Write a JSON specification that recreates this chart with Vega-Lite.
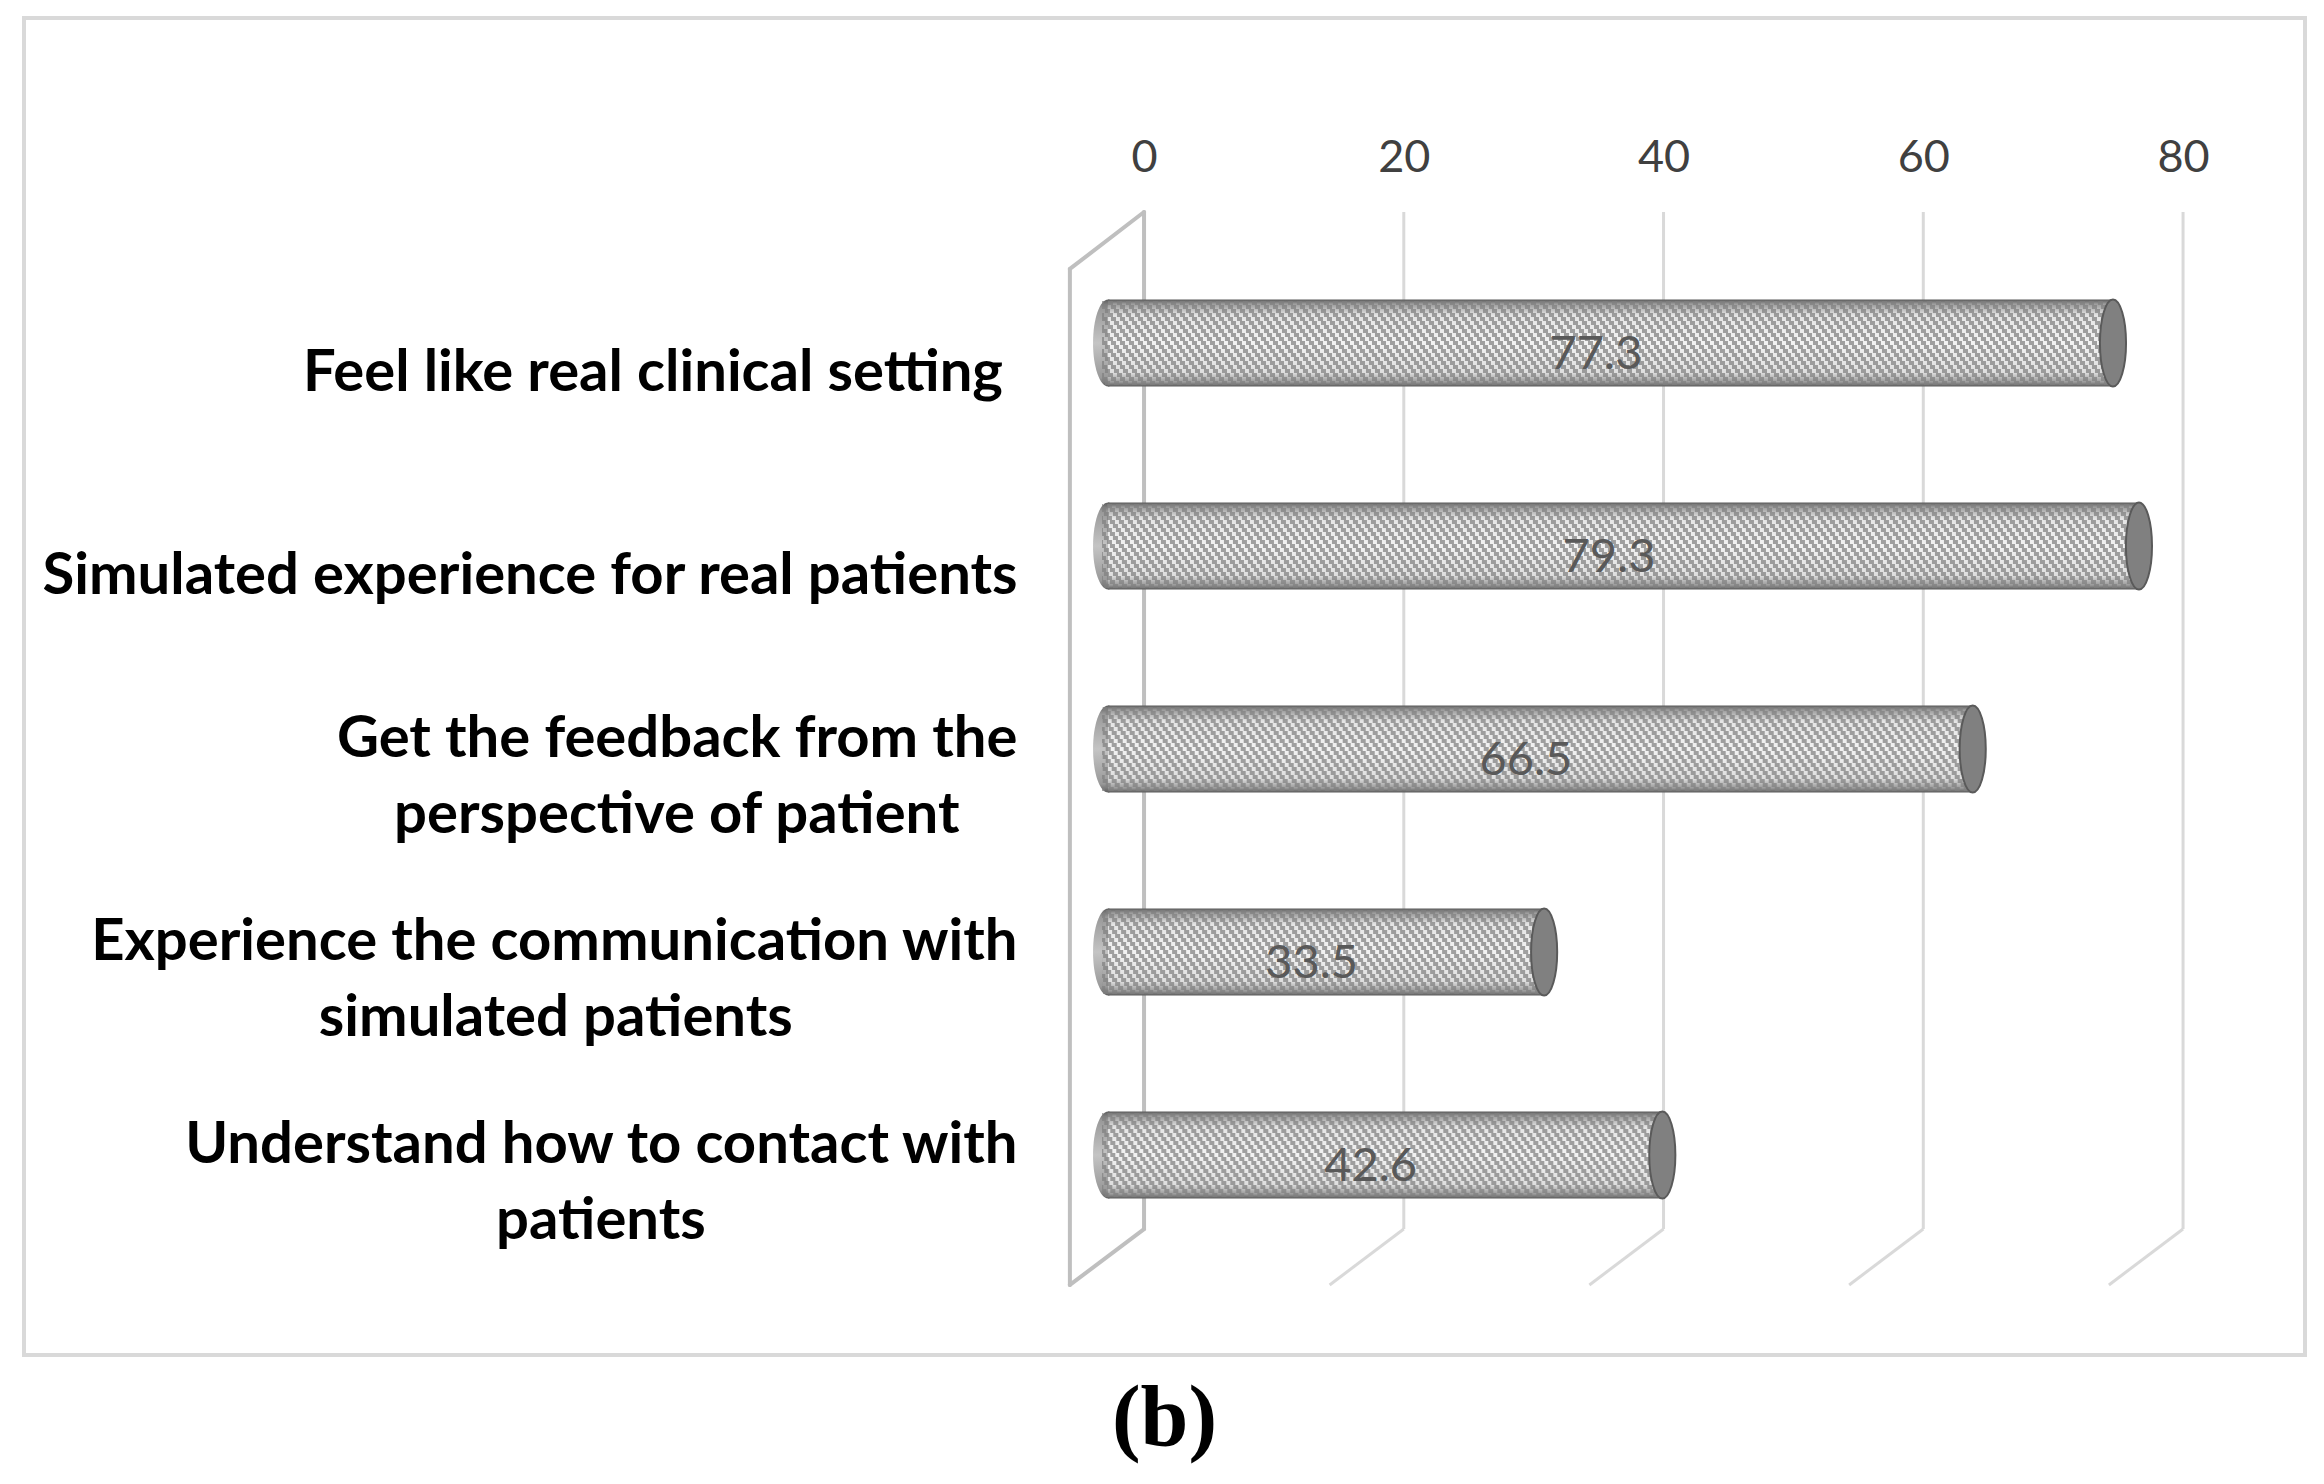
{"$schema":"https://vega.github.io/schema/vega-lite/v6.json","width":2281,"height":1337,"autosize":"none","padding":{"left":24,"top":18,"right":19,"bottom":129},"background":"white","config":{"view":{"stroke":"#d9d9d9","strokeWidth":4},"font":"Lato"},"title":{"text":"(b)","orient":"bottom","anchor":"middle","font":"Liberation Serif","fontWeight":"bold","fontSize":86,"color":"black","offset":22},"data":{"values":[{"label":"Feel like real clinical setting\u2009\u2009\u2060","value":77.3},{"label":"Simulated experience for real patients","value":79.3},{"label":"Get the feedback from the|perspective of patient\u2003\u2009\u2009\u2060","value":66.5},{"label":"Experience the communication with|simulated patients\u2003\u2003\u2003\u2003\u2003\u2009\u2060","value":33.5},{"label":"Understand how to contact with|patients\u2003\u2003\u2003\u2003\u2003\u2003\u2003\u2009\u2060","value":42.6}]},"resolve":{"scale":{"y":"independent"},"axis":{"x":"independent"}},"layer":[{"resolve":{"axis":{"x":"independent"}},"layer":[{"data":{"values":[{"v":20},{"v":40},{"v":60},{"v":80},{"v":0}]},"mark":{"type":"rule","stroke":"#d9d9d9","strokeWidth":3},"encoding":{"x":{"field":"v","type":"quantitative","scale":{"domain":[-86.24,89.39],"nice":false,"zero":false},"axis":{"orient":"top","offset":-162,"values":[0,20,40,60,80],"title":null,"grid":false,"ticks":false,"domain":false,"labelPadding":0,"labelFont":"Lato","labelFontSize":45,"labelColor":"#404040","labelAngle":0,"labelFlush":false,"labelOverlap":false}},"y":{"datum":9.42,"type":"quantitative","scale":{"domain":[0,100],"nice":false,"zero":false},"axis":null},"y2":{"datum":85.49}}},{"data":{"values":[{"a":20,"b":14.29},{"a":40,"b":34.29},{"a":60,"b":54.29},{"a":80,"b":74.29}]},"mark":{"type":"rule","stroke":"#d9d9d9","strokeWidth":3},"encoding":{"x":{"field":"a","type":"quantitative","scale":{"domain":[-86.24,89.39],"nice":false,"zero":false},"axis":null},"x2":{"field":"b"},"y":{"datum":9.42,"type":"quantitative","scale":{"domain":[0,100],"nice":false,"zero":false},"axis":null},"y2":{"datum":5.24}}},{"data":{"values":[{"a":0,"b":-5.71,"c":85.49,"d":81.23},{"a":-5.71,"b":-5.71,"c":81.23,"d":5.24},{"a":-5.71,"b":0,"c":5.24,"d":9.42},{"a":0,"b":0,"c":9.42,"d":85.49}]},"mark":{"type":"rule","stroke":"#bfbfbf","strokeWidth":4,"strokeCap":"round"},"encoding":{"x":{"field":"a","type":"quantitative","scale":{"domain":[-86.24,89.39],"nice":false,"zero":false},"axis":null},"x2":{"field":"b"},"y":{"field":"c","type":"quantitative","scale":{"domain":[0,100],"nice":false,"zero":false},"axis":null},"y2":{"field":"d"}}}]},{"encoding":{"y":{"field":"label","type":"nominal","sort":null,"scale":{"range":[223.5,1238.5],"paddingInner":0,"paddingOuter":0},"axis":{"orient":"left","offset":-993,"title":null,"ticks":false,"domain":false,"grid":false,"labelPadding":0,"labelOffset":{"condition":{"test":"indexof(datum.label,'|')>=0","value":-9},"value":31},"labelFont":"Lato","labelFontWeight":"bold","labelFontSize":58,"labelColor":"black","labelLimit":1200,"labelLineHeight":76,"labelExpr":"split(datum.label,'|')"}}},"layer":[{"mark":{"type":"point","shape":"M0,-1A0.345,1 0 1 1 0,1A0.345,1 0 1 1 0,-1Z","size":7569,"filled":true,"opacity":1,"xOffset":-36,"fill":{"gradient":"linear","x1":0,"y1":0,"x2":0,"y2":1,"stops":[{"offset":0,"color":"#5e5e5e"},{"offset":0.1,"color":"#999999"},{"offset":0.5,"color":"#c4c4c4"},{"offset":0.9,"color":"#999999"},{"offset":1,"color":"#5e5e5e"}]}},"encoding":{"x":{"datum":0,"type":"quantitative","scale":{"domain":[-86.24,89.39],"nice":false,"zero":false},"axis":null}}},{"mark":{"type":"bar","height":87,"xOffset":-36,"x2Offset":-36,"fill":{"gradient":"linear","x1":0,"y1":0,"x2":0,"y2":1,"stops":[{"offset":0,"color":"#5a5a5a"},{"offset":0.05,"color":"#9a9a9a"},{"offset":0.18,"color":"#e4e4e4"},{"offset":0.5,"color":"#f2f2f2"},{"offset":0.84,"color":"#dedede"},{"offset":0.95,"color":"#999999"},{"offset":1,"color":"#5a5a5a"}]}},"encoding":{"x":{"field":"value","type":"quantitative","stack":null,"scale":{"domain":[-86.24,89.39],"nice":false,"zero":false},"axis":null},"x2":{"datum":0}}},{"layer":[{"mark":{"type":"rule","yOffset":-40,"strokeDashOffset":0,"stroke":"#808080","strokeOpacity":0.72,"strokeWidth":4,"strokeDash":[5,4],"xOffset":-36,"x2Offset":-42}},{"mark":{"type":"rule","yOffset":-36,"strokeDashOffset":3,"stroke":"#808080","strokeOpacity":0.72,"strokeWidth":4,"strokeDash":[5,4],"xOffset":-36,"x2Offset":-42}},{"mark":{"type":"rule","yOffset":-32,"strokeDashOffset":6,"stroke":"#808080","strokeOpacity":0.72,"strokeWidth":4,"strokeDash":[5,4],"xOffset":-36,"x2Offset":-42}},{"mark":{"type":"rule","yOffset":-28,"strokeDashOffset":9,"stroke":"#808080","strokeOpacity":0.72,"strokeWidth":4,"strokeDash":[5,4],"xOffset":-36,"x2Offset":-42}},{"mark":{"type":"rule","yOffset":-24,"strokeDashOffset":12,"stroke":"#808080","strokeOpacity":0.72,"strokeWidth":4,"strokeDash":[5,4],"xOffset":-36,"x2Offset":-42}},{"mark":{"type":"rule","yOffset":-20,"strokeDashOffset":15,"stroke":"#808080","strokeOpacity":0.72,"strokeWidth":4,"strokeDash":[5,4],"xOffset":-36,"x2Offset":-42}},{"mark":{"type":"rule","yOffset":-16,"strokeDashOffset":18,"stroke":"#808080","strokeOpacity":0.72,"strokeWidth":4,"strokeDash":[5,4],"xOffset":-36,"x2Offset":-42}},{"mark":{"type":"rule","yOffset":-12,"strokeDashOffset":21,"stroke":"#808080","strokeOpacity":0.72,"strokeWidth":4,"strokeDash":[5,4],"xOffset":-36,"x2Offset":-42}},{"mark":{"type":"rule","yOffset":-8,"strokeDashOffset":24,"stroke":"#808080","strokeOpacity":0.72,"strokeWidth":4,"strokeDash":[5,4],"xOffset":-36,"x2Offset":-42}},{"mark":{"type":"rule","yOffset":-4,"strokeDashOffset":27,"stroke":"#808080","strokeOpacity":0.72,"strokeWidth":4,"strokeDash":[5,4],"xOffset":-36,"x2Offset":-42}},{"mark":{"type":"rule","yOffset":0,"strokeDashOffset":30,"stroke":"#808080","strokeOpacity":0.72,"strokeWidth":4,"strokeDash":[5,4],"xOffset":-36,"x2Offset":-42}},{"mark":{"type":"rule","yOffset":4,"strokeDashOffset":33,"stroke":"#808080","strokeOpacity":0.72,"strokeWidth":4,"strokeDash":[5,4],"xOffset":-36,"x2Offset":-42}},{"mark":{"type":"rule","yOffset":8,"strokeDashOffset":36,"stroke":"#808080","strokeOpacity":0.72,"strokeWidth":4,"strokeDash":[5,4],"xOffset":-36,"x2Offset":-42}},{"mark":{"type":"rule","yOffset":12,"strokeDashOffset":39,"stroke":"#808080","strokeOpacity":0.72,"strokeWidth":4,"strokeDash":[5,4],"xOffset":-36,"x2Offset":-42}},{"mark":{"type":"rule","yOffset":16,"strokeDashOffset":42,"stroke":"#808080","strokeOpacity":0.72,"strokeWidth":4,"strokeDash":[5,4],"xOffset":-36,"x2Offset":-42}},{"mark":{"type":"rule","yOffset":20,"strokeDashOffset":45,"stroke":"#808080","strokeOpacity":0.72,"strokeWidth":4,"strokeDash":[5,4],"xOffset":-36,"x2Offset":-42}},{"mark":{"type":"rule","yOffset":24,"strokeDashOffset":48,"stroke":"#808080","strokeOpacity":0.72,"strokeWidth":4,"strokeDash":[5,4],"xOffset":-36,"x2Offset":-42}},{"mark":{"type":"rule","yOffset":28,"strokeDashOffset":51,"stroke":"#808080","strokeOpacity":0.72,"strokeWidth":4,"strokeDash":[5,4],"xOffset":-36,"x2Offset":-42}},{"mark":{"type":"rule","yOffset":32,"strokeDashOffset":54,"stroke":"#808080","strokeOpacity":0.72,"strokeWidth":4,"strokeDash":[5,4],"xOffset":-36,"x2Offset":-42}},{"mark":{"type":"rule","yOffset":36,"strokeDashOffset":57,"stroke":"#808080","strokeOpacity":0.72,"strokeWidth":4,"strokeDash":[5,4],"xOffset":-36,"x2Offset":-42}},{"mark":{"type":"rule","yOffset":40,"strokeDashOffset":60,"stroke":"#808080","strokeOpacity":0.72,"strokeWidth":4,"strokeDash":[5,4],"xOffset":-36,"x2Offset":-42}}],"encoding":{"x":{"field":"value","type":"quantitative","scale":{"domain":[-86.24,89.39],"nice":false,"zero":false},"axis":null},"x2":{"datum":0}}},{"mark":{"type":"point","shape":"M0,-1A0.3,1 0 1 1 0,1A0.3,1 0 1 1 0,-1Z","size":7569,"filled":true,"opacity":1,"xOffset":-35,"fill":"#808080","stroke":"#5a5a5a","strokeWidth":2},"encoding":{"x":{"field":"value","type":"quantitative","scale":{"domain":[-86.24,89.39],"nice":false,"zero":false},"axis":null}}},{"transform":[{"calculate":"datum.value/2","as":"mid"}],"mark":{"type":"text","font":"Lato","fontSize":47,"color":"#595959","dx":-50,"dy":12,"align":"center","baseline":"middle"},"encoding":{"x":{"field":"mid","type":"quantitative","scale":{"domain":[-86.24,89.39],"nice":false,"zero":false},"axis":null},"text":{"field":"value","type":"quantitative","format":".1f"}}}]}]}
